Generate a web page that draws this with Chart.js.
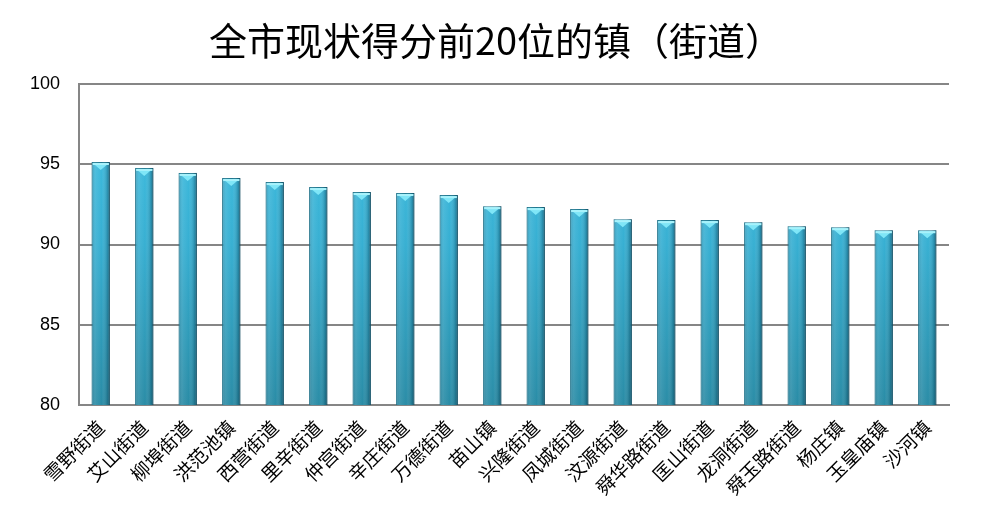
<!DOCTYPE html>
<html>
<head>
<meta charset="utf-8">
<script src="https://cdn.jsdelivr.net/npm/chart.js@4.4.1/dist/chart.umd.min.js"></script>
<style>
  html, body { margin: 0; padding: 0; background: #fff; }
  #wrap { width: 998px; height: 531px; }
</style>
</head>
<body>
<div id="wrap"><canvas id="c"></canvas></div>
<script>
// 镇（街道）名称
const towns = [
    '雪野街道', '艾山街道', '柳埠街道', '洪范池镇', '西营街道',
    '里辛街道', '仲宫街道', '辛庄街道', '万德街道', '苗山镇',
    '兴隆街道', '凤城街道', '汶源街道', '舜华路街道', '匡山街道',
    '龙洞街道', '舜玉路街道', '杨庄镇', '玉皇庙镇', '沙河镇'
];
// 现状得分
const scores = [
    95.14, 94.77, 94.46, 94.14, 93.89,
    93.58, 93.27, 93.21, 93.08, 92.39,
    92.33, 92.21, 91.58, 91.52, 91.52,
    91.39, 91.14, 91.08, 90.89, 90.89
];
const yMin = 80, yMax = 100, yStep = 5;
const title = '全市现状得分前20位的镇（街道）';

// 标题画在整张图的正中
const centerTitle = {
    id: 'centerTitle',
    afterDraw(chart) {
        const ctx = chart.ctx;
        ctx.save();
        ctx.font = '38px "Noto Sans CJK SC", sans-serif';
        ctx.fillStyle = '#000';
        ctx.textAlign = 'center';
        ctx.textBaseline = 'middle';
        ctx.fillText(title, chart.width / 2 - 3, 41);
        ctx.restore();
    }
};

// 柱体的立体效果：左右明暗 + 顶部的浅色三角
const shading = {
    id: 'shading',
    afterDatasetsDraw(chart) {
        const ctx = chart.ctx;
        const area = chart.chartArea;
        ctx.save();
        ctx.beginPath();
        ctx.rect(area.left, area.top, area.right - area.left, area.bottom - area.top);
        ctx.clip();
        chart.getDatasetMeta(0).data.forEach(bar => {
            const left = bar.x - bar.width / 2;
            const right = bar.x + bar.width / 2;
            const top = bar.y, bottom = bar.base;
            const g = ctx.createLinearGradient(left, 0, right, 0);
            g.addColorStop(0, 'rgba(20,90,115,0.35)');
            g.addColorStop(0.25, 'rgba(255,255,255,0.08)');
            g.addColorStop(0.55, 'rgba(255,255,255,0)');
            g.addColorStop(0.85, 'rgba(10,60,80,0.25)');
            g.addColorStop(1, 'rgba(10,50,70,0.6)');
            ctx.fillStyle = g;
            ctx.fillRect(left, top, right - left, bottom - top);
            // 顶部三角
            ctx.beginPath();
            ctx.moveTo(left + 1, top + 1);
            ctx.lineTo(right - 1, top + 1);
            ctx.lineTo(bar.x, top + 8);
            ctx.closePath();
            ctx.fillStyle = '#7fe6f7';
            ctx.fill();
            ctx.fillStyle = '#a8f2fb';
            ctx.fillRect(left + 1, top + 1, right - left - 2, 2);
        });
        ctx.restore();
    }
};

const ctx = document.getElementById('c').getContext('2d');
new Chart(ctx, {
    type: 'bar',
    data: {
        labels: towns,
        datasets: [{
            data: scores,
            backgroundColor: (c) => {
                const area = c.chart.chartArea;
                if (!area) return '#3cb6d8';
                const g = c.chart.ctx.createLinearGradient(0, area.top, 0, area.bottom);
                g.addColorStop(0, '#42c2e4');
                g.addColorStop(0.5, '#37afd2');
                g.addColorStop(1, '#2a8ca6');
                return g;
            },
            borderColor: '#1e7890',
            borderWidth: 1,
            borderSkipped: 'bottom',
            barPercentage: 0.42,
            categoryPercentage: 1
        }]
    },
    options: {
        responsive: true,
        maintainAspectRatio: false,
        animation: false,
        layout: { padding: { top: 84, right: 49, bottom: 0, left: 0 } },
        plugins: {
            legend: { display: false },
            tooltip: { enabled: false },
            title: { display: false }
        },
        scales: {
            x: {
                grid: { display: false, drawTicks: false },
                border: { color: '#868686', width: 2 },
                ticks: {
                    color: '#000',
                    maxRotation: 45,
                    minRotation: 45,
                    autoSkip: false,
                    padding: 11,
                    font: { family: '"Noto Sans CJK SC", sans-serif', size: 19 }
                },
                afterFit(scale) { scale.height = 126; }
            },
            y: {
                min: yMin,
                max: yMax,
                grid: { color: '#868686', lineWidth: 2, drawTicks: false },
                border: { color: '#868686', width: 2 },
                ticks: {
                    stepSize: yStep,
                    color: '#000',
                    padding: 19,
                    font: { family: '"Liberation Sans", Arial, sans-serif', size: 18 }
                },
                afterFit(scale) { scale.width = 79; }
            }
        }
    },
    plugins: [shading, centerTitle]
});
</script>
</body>
</html>
